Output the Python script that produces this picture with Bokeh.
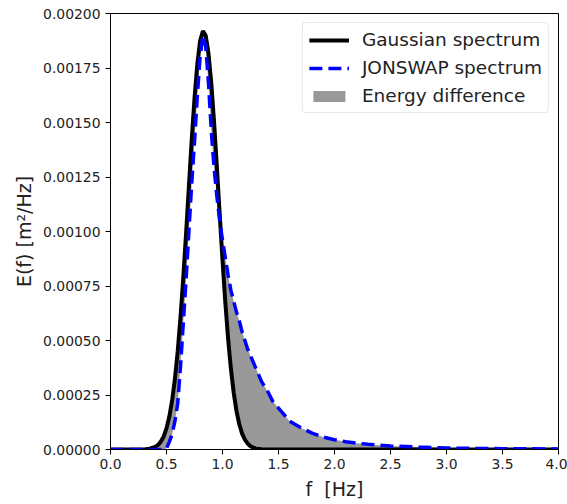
from bokeh.plotting import figure
from bokeh.models import Range1d, FixedTicker, NumeralTickFormatter, Legend, LegendItem
from bokeh.embed import file_html
from bokeh.resources import INLINE

# Frequency grid [Hz]
freq = [0.0, 0.3, 0.35, 0.4, 0.425, 0.45, 0.475, 0.5, 0.525, 0.55, 0.575, 0.6,
        0.625, 0.65, 0.675, 0.7, 0.725, 0.75, 0.775, 0.8, 0.825, 0.85, 0.875,
        0.9, 0.925, 0.95, 0.975, 1.0, 1.025, 1.05, 1.075, 1.1, 1.125, 1.15,
        1.175, 1.2, 1.225, 1.25, 1.275, 1.3, 1.35, 1.4, 1.45, 1.5, 1.6, 1.7,
        1.8, 1.9, 2.0, 2.1, 2.2, 2.3, 2.4, 2.5, 2.75, 3.0, 3.25, 3.5, 3.75, 4.0]

# Gaussian spectrum E(f) [m^2/Hz]
gaussian = [0.0, 0.0, 0.0000035, 0.000012, 0.000021, 0.000037, 0.00006, 0.000097,
            0.00015, 0.000224, 0.000323, 0.00045, 0.000606, 0.00079, 0.000993,
            0.001207, 0.001419, 0.00161, 0.001767, 0.001874, 0.00192, 0.001899,
            0.001816, 0.001679, 0.001499, 0.001294, 0.001078, 0.00087, 0.000676,
            0.000509, 0.00037, 0.00026, 0.000176, 0.000116, 0.000073, 0.000045,
            0.000027, 0.000015, 0.0000084, 0.000004, 0.000001, 0.0, 0.0, 0.0,
            0.0, 0.0, 0.0, 0.0, 0.0, 0.0, 0.0, 0.0, 0.0, 0.0, 0.0, 0.0, 0.0,
            0.0, 0.0, 0.0]

# JONSWAP spectrum E(f) [m^2/Hz]
jonswap = [0.0, 0.0, 0.0, 0.0, 0.0, 0.0, 0.000001, 0.000005, 0.000035, 0.00007,
           0.00013, 0.00021, 0.00038, 0.00058, 0.00078, 0.00100, 0.00122,
           0.00141, 0.00162, 0.00180, 0.00190, 0.00185, 0.00168, 0.00146,
           0.00129, 0.00116, 0.00105, 0.00096, 0.00088, 0.00080, 0.00073,
           0.00068, 0.00063, 0.00059, 0.00054, 0.00050, 0.00046, 0.00043,
           0.00040, 0.00037, 0.00031, 0.00027, 0.00022, 0.00019, 0.00013,
           0.000100, 0.000075, 0.000057, 0.000045, 0.000036, 0.000029,
           0.000024, 0.000020, 0.000016, 0.000011, 0.000007, 0.000005,
           0.000004, 0.000003, 0.000002]

x_ticks = [0.0, 0.5, 1.0, 1.5, 2.0, 2.5, 3.0, 3.5, 4.0]
y_ticks = [0.0, 0.00025, 0.0005, 0.00075, 0.001, 0.00125, 0.0015, 0.00175, 0.002]

FONT = "DejaVu Sans"
TXT = "#222222"

p = figure(width=567, height=504, output_backend="svg", toolbar_location=None,
           x_range=Range1d(0, 4), y_range=Range1d(0, 0.002),
           min_border_left=110, min_border_right=9, min_border_top=13,
           min_border_bottom=55)
p.background_fill_color = "white"
p.border_fill_color = "white"
p.outline_line_color = "black"
p.outline_line_width = 1
p.grid.visible = False

area = p.varea(x=freq, y1=gaussian, y2=jonswap, fill_color="#999999")
g_line = p.line(freq, gaussian, line_color="black", line_width=4)
j_line = p.line(freq, jonswap, line_color="#0000ff", line_width=3.5,
                line_dash="13 6")

for ax in (p.xaxis[0], p.yaxis[0]):
    ax.major_tick_out = 5
    ax.major_tick_in = 0
    ax.minor_tick_out = 0
    ax.minor_tick_in = 0
    ax.major_tick_line_color = "black"
    ax.axis_line_color = "black"
    ax.major_label_text_font = FONT
    ax.major_label_text_font_size = "13.9px"
    ax.major_label_text_color = TXT
    ax.axis_label_text_font = FONT
    ax.axis_label_text_font_size = "19px"
    ax.axis_label_text_font_style = "normal"
    ax.axis_label_text_color = TXT

p.xaxis[0].ticker = FixedTicker(ticks=x_ticks)
p.yaxis[0].ticker = FixedTicker(ticks=y_ticks)
p.xaxis[0].formatter = NumeralTickFormatter(format="0.0")
p.yaxis[0].formatter = NumeralTickFormatter(format="0.00000")
p.xaxis[0].axis_label = "f\u00a0\u00a0[Hz]"
p.yaxis[0].axis_label = "E(f)\u00a0[m²/Hz]"
p.xaxis[0].major_label_standoff = 4
p.yaxis[0].major_label_standoff = 5
p.xaxis[0].axis_label_standoff = 6
p.yaxis[0].axis_label_standoff = 5

legend = Legend(items=[
    LegendItem(label="Gaussian spectrum", renderers=[g_line]),
    LegendItem(label="JONSWAP spectrum", renderers=[j_line]),
    LegendItem(label="Energy difference", renderers=[area]),
], location="top_right")
legend.label_text_font = FONT
legend.label_text_font_size = "18.5px"
legend.label_text_color = TXT
legend.glyph_width = 40
legend.glyph_height = 14
legend.label_height = 20
legend.spacing = 7
legend.padding = 6
legend.margin = 9
legend.label_standoff = 13
legend.border_line_color = "#d0d0d0"
legend.border_line_width = 1
legend.background_fill_alpha = 0.8
if "border_radius" in legend.properties():
    legend.border_radius = 4
p.add_layout(legend)

open("out.html", "w").write(file_html(p, INLINE))
